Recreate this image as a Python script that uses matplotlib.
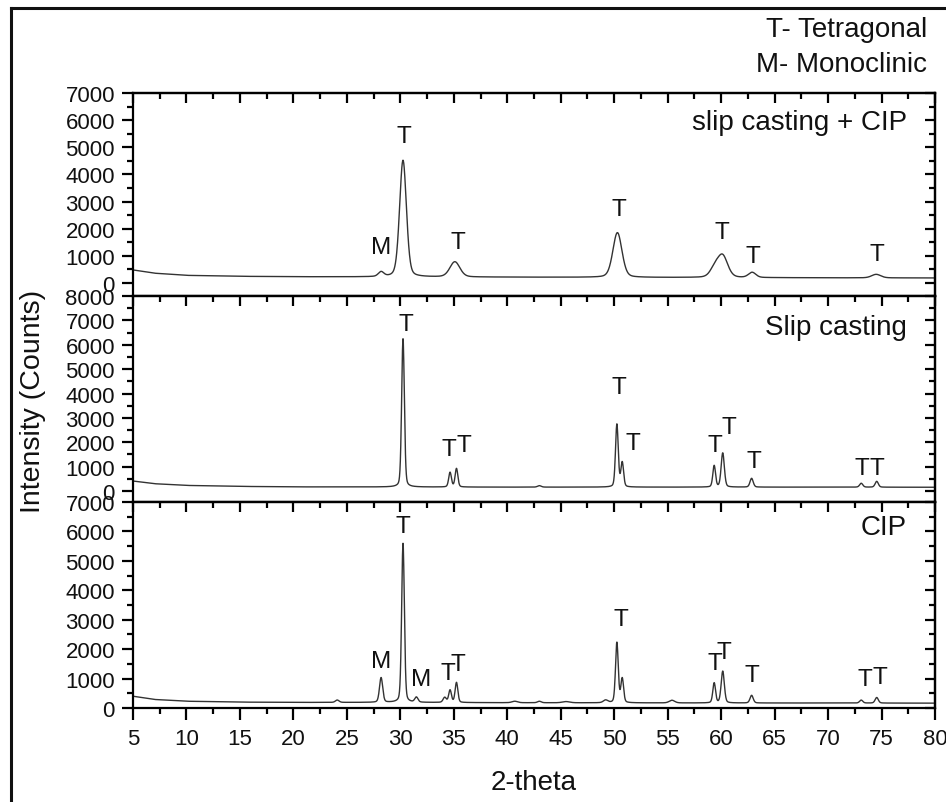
import numpy as np
import matplotlib
matplotlib.use("Agg")
import matplotlib.pyplot as plt
from matplotlib.lines import Line2D
from matplotlib.ticker import MultipleLocator

plt.rcParams['font.family'] = ['Liberation Sans', 'DejaVu Sans']

# ---------------- data ----------------
# background levels (counts) at given 2-theta positions
bg_x = [5, 7, 10, 15, 20, 30, 40, 50, 60, 70, 80]
bg_sc_cip = [480, 360, 280, 245, 230, 220, 215, 205, 200, 190, 185]
bg_sc = [410, 300, 230, 190, 170, 165, 160, 160, 160, 160, 155]
bg_cip = [400, 290, 230, 200, 190, 190, 180, 175, 170, 170, 165]

# peaks: position (deg), height above background (counts), FWHM (deg)
sc_cip_pos = [28.2, 30.25, 35.1, 50.3, 59.4, 60.15, 62.9, 74.5]
sc_cip_hgt = [170, 4300, 560, 1650, 330, 780, 190, 130]
sc_cip_fwhm = [0.6, 0.75, 1.1, 1.0, 1.0, 1.1, 0.8, 1.0]

sc_pos = [30.25, 34.65, 35.25, 43.0, 50.25, 50.75, 59.35, 60.15, 62.85, 73.1, 74.55]
sc_hgt = [6100, 600, 760, 60, 2580, 1000, 880, 1400, 360, 160, 240]
sc_fwhm = [0.3, 0.3, 0.3, 0.4, 0.3, 0.3, 0.3, 0.35, 0.35, 0.35, 0.35]

cip_pos = [24.1, 28.2, 30.25, 31.5, 34.15, 34.65, 35.25, 40.7, 43.0, 45.5, 49.2,
           50.25, 50.75, 55.4, 59.35, 60.15, 62.85, 73.1, 74.55]
cip_hgt = [80, 840, 5420, 170, 170, 420, 680, 50, 50, 40, 90,
           2050, 820, 90, 680, 1080, 260, 100, 190]
cip_fwhm = [0.4, 0.35, 0.3, 0.35, 0.35, 0.3, 0.3, 0.6, 0.4, 0.8, 0.5,
            0.3, 0.3, 0.6, 0.3, 0.35, 0.35, 0.35, 0.35]

# peak labels: (2-theta, intensity, text)
lab_sc_cip = [(28.2, 1330, 'M'), (30.3, 5420, 'T'), (35.4, 1510, 'T'),
              (50.4, 2730, 'T'), (60.1, 1880, 'T'), (63.0, 1000, 'T'),
              (74.6, 1070, 'T')]
lab_sc = [(30.5, 6840, 'T'), (34.5, 1720, 'T'), (35.9, 1890, 'T'),
          (50.4, 4260, 'T'), (51.7, 1970, 'T'), (59.4, 1890, 'T'),
          (60.7, 2620, 'T'), (63.1, 1230, 'T'), (73.2, 940, 'T'),
          (74.6, 940, 'T')]
lab_cip = [(28.2, 1590, 'M'), (30.2, 6170, 'T'), (31.9, 980, 'M'),
           (34.4, 1190, 'T'), (35.4, 1490, 'T'), (50.6, 3020, 'T'),
           (59.4, 1530, 'T'), (60.3, 1900, 'T'), (62.9, 1120, 'T'),
           (73.4, 980, 'T'), (74.8, 1050, 'T')]

panel_names = ['slip casting + CIP', 'Slip casting', 'CIP']
x_ticks = [5, 10, 15, 20, 25, 30, 35, 40, 45, 50, 55, 60, 65, 70, 75, 80]


def pattern(x, bgx, bgy, pos, hgt, fwhm, eta=0.25):
    y = np.interp(x, bgx, bgy)
    for p, h, w in zip(pos, hgt, fwhm):
        g = np.exp(-4 * np.log(2) * ((x - p) / w) ** 2)
        l = 1.0 / (1.0 + 4 * ((x - p) / w) ** 2)
        y = y + h * ((1 - eta) * g + eta * l)
    return y


tt = np.linspace(5, 80, 3751)
series = [
    pattern(tt, bg_x, bg_sc_cip, sc_cip_pos, sc_cip_hgt, sc_cip_fwhm),
    pattern(tt, bg_x, bg_sc, sc_pos, sc_hgt, sc_fwhm),
    pattern(tt, bg_x, bg_cip, cip_pos, cip_hgt, cip_fwhm),
]
labels = [lab_sc_cip, lab_sc, lab_cip]

# ---------------- figure ----------------
W, H = 946, 803
fig = plt.figure(figsize=(W / 100, H / 100), dpi=100)

left = 133 / W
right = 935 / W
bounds_px = [(94, 297), (297, 503), (503, 709)]
ylims = [(-480, 7000), (-450, 8000), (0, 7000)]
ymajors = [(0, 7000), (0, 8000), (0, 7000)]
name_y = [0.857, 0.85, 0.879]
TXT = '#111111'
TICKFS = 16

axes = []
for i, ((t, b), yl, ym) in enumerate(zip(bounds_px, ylims, ymajors)):
    ax = fig.add_axes([left, 1 - b / H, right - left, (b - t) / H])
    ax.plot(tt, series[i], color='#333333', lw=1.0)
    ax.set_xlim(5, 80)
    ax.set_ylim(*yl)
    ax.set_yticks(np.arange(ym[0], ym[1] + 1, 1000))
    ax.yaxis.set_minor_locator(MultipleLocator(500))
    ax.set_xticks(x_ticks)
    ax.xaxis.set_minor_locator(MultipleLocator(2.5))
    for s in ax.spines.values():
        s.set_linewidth(1.6)
    # left outward ticks
    ax.tick_params(axis='y', which='both', left=True, right=False,
                   direction='out', labelsize=TICKFS, pad=5, width=1.6,
                   labelcolor=TXT)
    ax.tick_params(axis='y', which='major', length=8)
    ax.tick_params(axis='y', which='minor', length=4.5)
    # right-side inward ticks
    sec = ax.secondary_yaxis('right')
    sec.set_yticks(np.arange(ym[0], ym[1] + 1, 1000))
    sec.yaxis.set_minor_locator(MultipleLocator(500))
    sec.tick_params(axis='y', which='both', direction='in', labelright=False,
                    width=1.6)
    sec.tick_params(axis='y', which='major', length=7)
    sec.tick_params(axis='y', which='minor', length=4)
    sec.spines['right'].set_linewidth(1.6)
    # top inward ticks
    top = ax.secondary_xaxis('top')
    top.set_xticks(x_ticks)
    top.xaxis.set_minor_locator(MultipleLocator(2.5))
    top.tick_params(axis='x', which='both', direction='in', labeltop=False,
                    width=1.6)
    top.tick_params(axis='x', which='major', length=7.5)
    top.tick_params(axis='x', which='minor', length=4)
    top.spines['top'].set_linewidth(1.6)
    if i < 2:
        ax.tick_params(axis='x', which='both', bottom=False, labelbottom=False)
    else:
        ax.tick_params(axis='x', which='both', direction='out', labelsize=TICKFS,
                       pad=6, width=1.6, labelcolor=TXT)
        ax.tick_params(axis='x', which='major', length=8.5)
        ax.tick_params(axis='x', which='minor', length=4.5)
    for (px, py, s) in labels[i]:
        ax.text(px, py, s, ha='center', va='center', fontsize=17.5, color=TXT)
    ax.text(0.965, name_y[i], panel_names[i], transform=ax.transAxes,
            ha='right', va='center', fontsize=20, color=TXT)
    axes.append(ax)

fig.text(33 / W, 0.5, 'Intensity (Counts)', rotation=90, ha='center',
         va='center', fontsize=20.5, color=TXT)
fig.text((133 + 935) / 2 / W, 1 - 783 / H, '2-theta', ha='center',
         va='center', fontsize=20, color=TXT)
fig.text(927 / W, 1 - 30 / H, 'T- Tetragonal', ha='right', va='center',
         fontsize=20, color=TXT)
fig.text(927 / W, 1 - 65 / H, 'M- Monoclinic', ha='right', va='center',
         fontsize=20, color=TXT)

# outer frame (left and top edges visible)
fig.add_artist(Line2D([11 / W, 11 / W], [0, 1 - 9 / H], transform=fig.transFigure,
                      color=TXT, lw=2.2))
fig.add_artist(Line2D([11 / W, 1], [1 - 9 / H, 1 - 9 / H], transform=fig.transFigure,
                      color=TXT, lw=2.2))

fig.savefig('out.png', dpi=100)
